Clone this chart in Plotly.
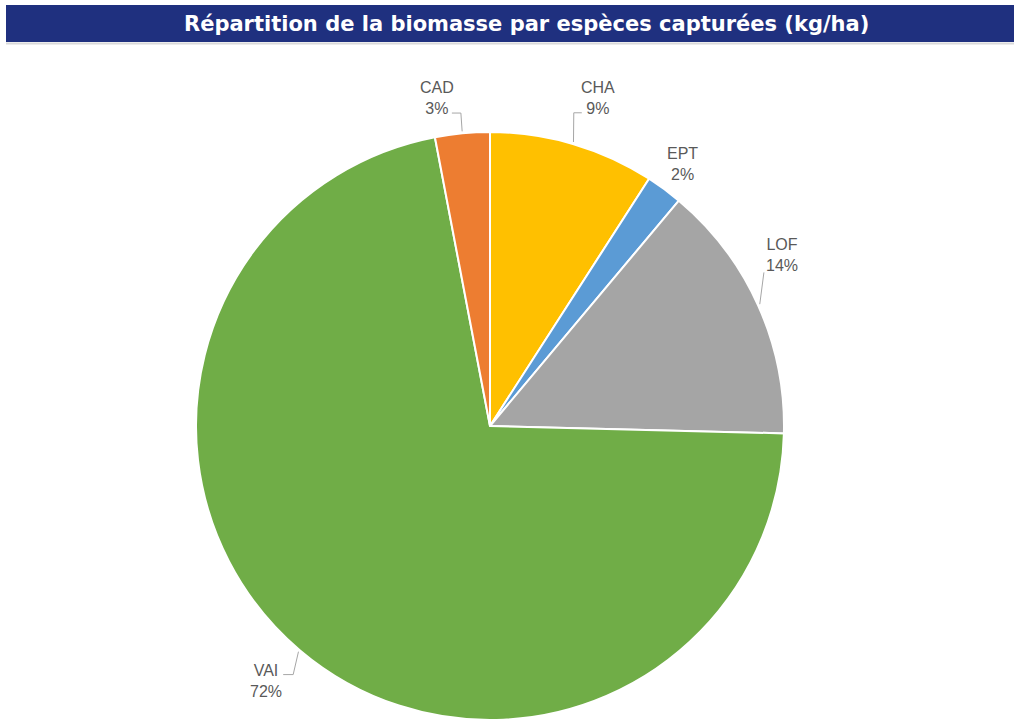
import math
import plotly.graph_objects as go

# ---- data (shares of biomass, kg/ha) ----
species = ["CHA", "EPT", "LOF", "VAI", "CAD"]
biomass = [9.1, 2.0, 14.3, 71.6, 3.0]
colors = ["#FFC000", "#5B9BD5", "#A5A5A5", "#70AD47", "#ED7D31"]
title_text = "Répartition de la biomasse par espèces capturées (kg/ha)"

# ---- layout / style ----
W, H = 1014, 727
CX, CY, R = 490, 426, 294
# label placement: radius factor, angle nudge (deg), leader (attach dx, attach dy, elbow dx) or None
label_style = {
    "CHA": (1.175, 1.8, (-16, 15, -8)),
    "EPT": (1.105, 0.0, None),
    "LOF": (1.15, -6.0, (-18, 17, 0)),
    "VAI": (1.153, 1.0, (17, -6, 10)),
    "CAD": (1.13, -3.8, (15, 15, 9)),
}
label_font = dict(family="Liberation Sans, Arial, sans-serif", size=16, color="#595959")


def px(x):
    return x / W


def py(y):
    return 1 - y / H


fig = go.Figure(go.Pie(
    labels=species,
    values=biomass,
    sort=False,
    direction="clockwise",
    rotation=0,
    marker=dict(colors=colors, line=dict(color="white", width=2)),
    textinfo="none",
    hoverinfo="label+percent+value",
    showlegend=False,
    domain=dict(x=[px(CX - R), px(CX + R)], y=[py(CY + R), py(CY - R)]),
))

total = sum(biomass)
annotations = []
shapes = []
cum = 0.0
for name, v in zip(species, biomass):
    mid = (cum + v / 2) / total * 360.0
    cum += v
    rf, nudge, leader = label_style[name]
    a = math.radians(mid + nudge)
    lx = CX + rf * R * math.sin(a)
    ly = CY - rf * R * math.cos(a)
    pct = round(v / total * 100)
    annotations.append(dict(
        x=px(lx), y=py(ly), xref="paper", yref="paper",
        text=f"{name}<br>{pct}%", showarrow=False, align="center",
        xanchor="center", yanchor="middle", font=label_font,
    ))
    if leader:
        adx, ady, edx = leader
        am = math.radians(mid)
        sx = CX + (R + 2) * math.sin(am)
        sy = CY - (R + 2) * math.cos(am)
        ex, ey = lx + adx, ly + ady
        bx = ex + edx
        path = f"M {px(sx)},{py(sy)} L {px(bx)},{py(ey)} L {px(ex)},{py(ey)}"
        shapes.append(dict(type="path", xref="paper", yref="paper", path=path,
                           line=dict(color="#A6A6A6", width=1)))

# title bar
shapes.append(dict(type="rect", xref="paper", yref="paper",
                   x0=px(6), x1=px(1014), y0=py(42), y1=py(5),
                   fillcolor="#1F307F", line=dict(width=0), layer="below"))
shapes.append(dict(type="line", xref="paper", yref="paper",
                   x0=px(6), x1=px(1014), y0=py(43.5), y1=py(43.5),
                   line=dict(color="#D9D9D9", width=2)))
annotations.append(dict(
    x=px(526), y=py(23.5), xref="paper", yref="paper", showarrow=False,
    text=f"<b>{title_text}</b>", xanchor="center", yanchor="middle",
    font=dict(family="DejaVu Sans, sans-serif", size=21, color="white"),
))

fig.update_layout(
    width=W, height=H, autosize=False,
    margin=dict(l=0, r=0, t=0, b=0),
    paper_bgcolor="white", plot_bgcolor="white",
    shapes=shapes, annotations=annotations,
)

fig.write_html("out.html", config={"displayModeBar": False},
               post_script="document.body.style.margin='0';")
